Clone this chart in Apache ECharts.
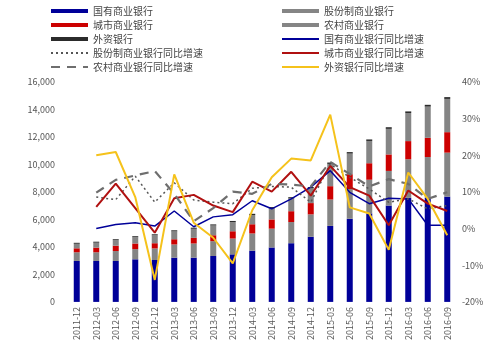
<!DOCTYPE html>
<html>
<head>
<meta charset="utf-8">
<script src="https://cdn.jsdelivr.net/npm/echarts@6/dist/echarts.min.js"></script>
<style>
  html, body { margin: 0; padding: 0; background: #fff; }
  #chart { width: 500px; height: 343px; }
</style>
</head>
<body>
<div id="chart"></div>
<script>
// Quarter labels
const quarters = ['2011-12','2012-03','2012-06','2012-09','2012-12','2013-03','2013-06','2013-09','2013-12',
  '2014-03','2014-06','2014-09','2014-12','2015-03','2015-06','2015-09','2015-12','2016-03','2016-06','2016-09'];

// Stacked balances by bank type
const stateOwned = [2980,2980,2980,3100,3050,3220,3220,3340,3460,3730,3960,4270,4740,5530,6050,6440,7010,7570,7570,7660];
const jointStock = [630,630,720,740,840,960,1030,1080,1150,1250,1370,1540,1630,1920,2160,2450,2520,2810,2970,3200];
const cityBanks  = [290,340,390,410,380,380,410,430,530,670,670,790,820,970,1080,1200,1200,1320,1400,1490];
const ruralBanks = [330,360,400,460,580,570,660,710,670,670,810,930,1070,1620,1500,1620,1860,2040,2270,2420];
const foreignBanks = [70,70,70,70,70,80,80,80,80,90,90,90,100,100,110,110,120,120,130,130];

// Year-on-year growth, %
const stateOwnedYoY = [null,0.0,1.1,1.6,0.7,4.8,0.5,3.2,3.8,7.6,5.4,8.1,11.3,15.8,9.9,6.8,8.3,8.1,0.9,0.9];
const jointStockYoY = [null,8.6,7.9,14.3,7.2,12.5,7.8,7.2,6.8,11.0,11.5,11.3,7.2,17.6,14.0,10.8,7.2,8.1,5.4,6.3];
const cityBanksYoY  = [null,5.9,12.3,5.6,-1.1,8.3,9.2,6.3,4.5,12.8,10.1,15.5,9.0,17.1,11.3,9.0,0.9,10.4,6.8,4.8];
const ruralBanksYoY = [null,9.8,13.3,14.5,15.7,9.5,2.0,5.6,10.1,9.5,12.2,12.0,11.5,18.2,14.9,11.5,13.5,12.2,8.1,9.9];
const foreignBanksYoY = [null,20.0,20.9,8.6,-14.0,14.8,1.6,-2.5,-9.5,5.0,14.0,19.1,18.6,31.1,5.8,4.1,-5.8,15.3,8.1,-1.8];

// Axis tick settings
const leftTicks = { min: 0, max: 16000, interval: 2000 };
const rightTicks = { min: -20, max: 40, interval: 10 };

const FONT = '"Noto Sans CJK SC", "Noto Sans", sans-serif';
const BLUE = '#000099', GRAY = '#858585', RED = '#cc0000', BLACK = '#2b2b2b';

function bar(name, data, color) {
  return { name, type: 'bar', stack: 'total', data, barWidth: 6,
    itemStyle: { color }, yAxisIndex: 0 };
}
function line(name, data, color, width, type) {
  return { name, type: 'line', data, yAxisIndex: 1, symbol: 'none',
    lineStyle: { color, width, type: type || 'solid' }, itemStyle: { color }, z: 5 };
}

// legend entries: bars as solid rectangles, lines as bare strokes
const barKey = name => ({ name, icon: 'rect' });
const lineKey = name => ({ name, itemStyle: { opacity: 0 } });

const legendBase = {
  orient: 'vertical', itemWidth: 37, itemHeight: 4, itemGap: 2,
  textStyle: { fontFamily: FONT, fontSize: 10, color: '#444', lineHeight: 12 },
  selectedMode: false
};

const chart = echarts.init(document.getElementById('chart'), null, { renderer: 'canvas' });
chart.setOption({
  animation: false,
  backgroundColor: '#fff',
  textStyle: { fontFamily: FONT },
  legend: [
    Object.assign({}, legendBase, { left: 45, top: 0, data: [
      barKey('国有商业银行'), barKey('城市商业银行'), barKey('外资银行'),
      lineKey('股份制商业银行同比增速'), lineKey('农村商业银行同比增速')] }),
    Object.assign({}, legendBase, { left: 276, top: 0, data: [
      barKey('股份制商业银行'), barKey('农村商业银行'),
      lineKey('国有商业银行同比增速'), lineKey('城市商业银行同比增速'), lineKey('外资银行同比增速')] })
  ],
  grid: { left: 67, right: 43, top: 82, bottom: 39 },
  xAxis: {
    type: 'category', data: quarters,
    axisLine: { show: false }, axisTick: { show: false },
    axisLabel: { rotate: 90, interval: 0, fontSize: 9, color: '#555', margin: 5, fontFamily: FONT }
  },
  yAxis: [
    { type: 'value', min: leftTicks.min, max: leftTicks.max, interval: leftTicks.interval,
      splitLine: { show: false }, axisLine: { show: false }, axisTick: { show: false },
      axisLabel: { fontSize: 9, color: '#555', margin: 12, fontFamily: FONT,
        formatter: v => v.toLocaleString('en-US') } },
    { type: 'value', min: rightTicks.min, max: rightTicks.max, interval: rightTicks.interval,
      splitLine: { show: false }, axisLine: { show: false }, axisTick: { show: false },
      axisLabel: { fontSize: 9, color: '#555', margin: 5, fontFamily: FONT, formatter: '{value}%' } }
  ],
  series: [
    bar('国有商业银行', stateOwned, BLUE),
    bar('股份制商业银行', jointStock, GRAY),
    bar('城市商业银行', cityBanks, RED),
    bar('农村商业银行', ruralBanks, GRAY),
    bar('外资银行', foreignBanks, BLACK),
    line('国有商业银行同比增速', stateOwnedYoY, BLUE, 1.5),
    line('股份制商业银行同比增速', jointStockYoY, '#555', 1.5, [2, 3]),
    line('城市商业银行同比增速', cityBanksYoY, '#b01010', 2),
    line('农村商业银行同比增速', ruralBanksYoY, '#6e6e6e', 2.2, [9, 7]),
    line('外资银行同比增速', foreignBanksYoY, '#f5c21b', 2)
  ]
});
</script>
</body>
</html>
